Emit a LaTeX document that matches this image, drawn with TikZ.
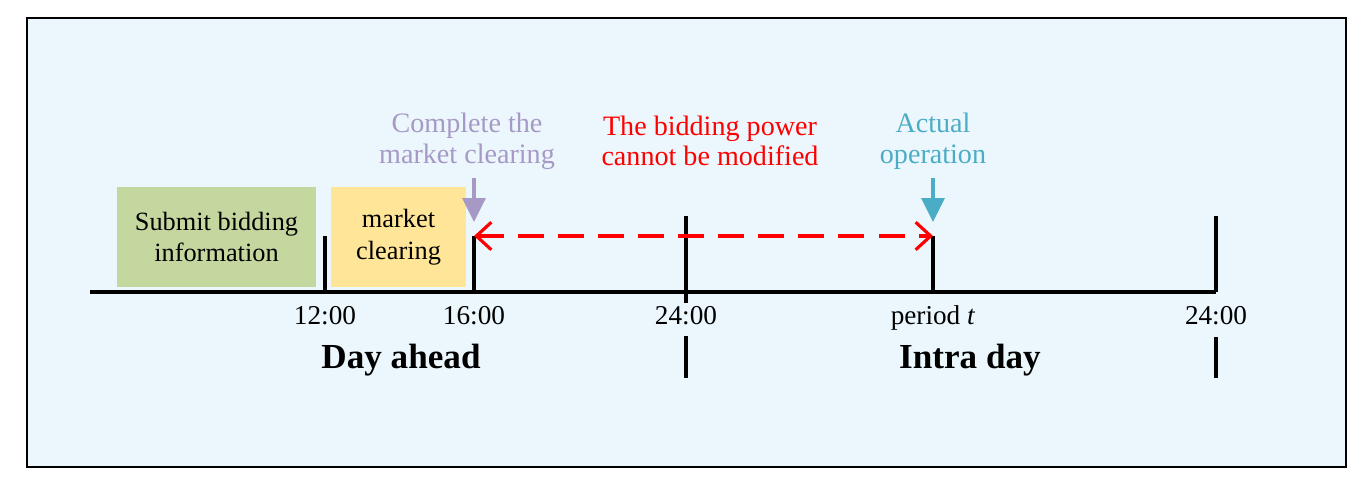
\documentclass[tikz,border=0pt]{standalone}
\usepackage{fontspec}
\setmainfont{Liberation Serif}
\usepackage{xcolor}
\usetikzlibrary{arrows.meta}
\definecolor{bgblue}{HTML}{EBF7FC}
\definecolor{subgreen}{HTML}{C4D79F}
\definecolor{clearyellow}{HTML}{FFE598}
\definecolor{lilac}{HTML}{A799C6}
\definecolor{opteal}{HTML}{4BACC6}

\begin{document}
\begin{tikzpicture}[x=0.02cm,y=-0.02cm,
  phase/.style={minimum height=2cm,inner sep=0pt,align=center,font=\fontsize{15}{18}\selectfont},
  axis/.style={line width=2pt},
  tlabel/.style={anchor=base,font=\fontsize{15.5}{18}\selectfont},
  daylabel/.style={font=\fontsize{20}{24}\selectfont\bfseries},
  note/.style={align=center,font=\fontsize{16}{17.5}\selectfont},
  downarrow/.style={line width=1.8pt,-{Triangle[length=0.48cm,width=0.46cm]}}]
\useasboundingbox (0,0) rectangle (1372,501);
\draw[line width=1.6pt,fill=bgblue] (27,18) rectangle (1346,467);
\node[phase,fill=subgreen,minimum width=3.98cm] (submit) at (216.5,237) {Submit bidding\\information};
\node[phase,fill=clearyellow,minimum width=2.7cm] (clearing) at (398.5,237) {market\\clearing};
\coordinate (start) at (90,292);
\coordinate (end) at (1216,292);
\coordinate (t12) at (325,292);
\coordinate (t12top) at (325,236);
\coordinate (t16) at (474,292);
\coordinate (t16top) at (474,236);
\coordinate (t24) at (686,303);
\coordinate (t24top) at (686,216);
\coordinate (t24a) at (686,336);
\coordinate (t24b) at (686,378);
\coordinate (tp) at (933,292);
\coordinate (tptop) at (933,236);
\coordinate (e24top) at (1216,216);
\coordinate (e24a) at (1216,337);
\coordinate (e24b) at (1216,378);
\draw[axis] (start) -- (end);
\draw[axis] (t12) -- (t12top);
\draw[axis] (t16) -- (t16top);
\draw[axis] (t24) -- (t24top);
\draw[axis] (t24a) -- (t24b);
\draw[axis] (tp) -- (tptop);
\draw[axis] (end) -- (e24top);
\draw[axis] (e24a) -- (e24b);
\node[tlabel] (l12) at (325,324) {12:00};
\node[tlabel] (l16) at (474,324) {16:00};
\node[tlabel] (l24) at (686,324) {24:00};
\node[tlabel] (lp) at (933,324) {period \textit{t}};
\node[tlabel] (le24) at (1216,324) {24:00};
\node[daylabel] (ahead) at (401,360) {Day ahead};
\node[daylabel] (intra) at (970,360) {Intra day};
\node[note,text=lilac] (complete) at (467,141) {Complete the\\market clearing};
\node[note,text=red] (fixed) at (710,141) {The bidding power\\cannot be modified};
\node[note,text=opteal] (actual) at (933,141) {Actual\\operation};
\coordinate (cmfrom) at (474,178);
\coordinate (cmto) at (474,222);
\coordinate (opfrom) at (933,178);
\coordinate (opto) at (933,222);
\draw[downarrow,lilac] (cmfrom) -- (cmto);
\draw[downarrow,opteal] (opfrom) -- (opto);
\draw[red,line width=1.8pt,dash pattern=on 14.8pt off 8pt,
  {Straight Barb[length=0.3cm,width=0.55cm]}-{Straight Barb[length=0.3cm,width=0.55cm]}] (t16top) -- (tptop);
\end{tikzpicture}
\end{document}
